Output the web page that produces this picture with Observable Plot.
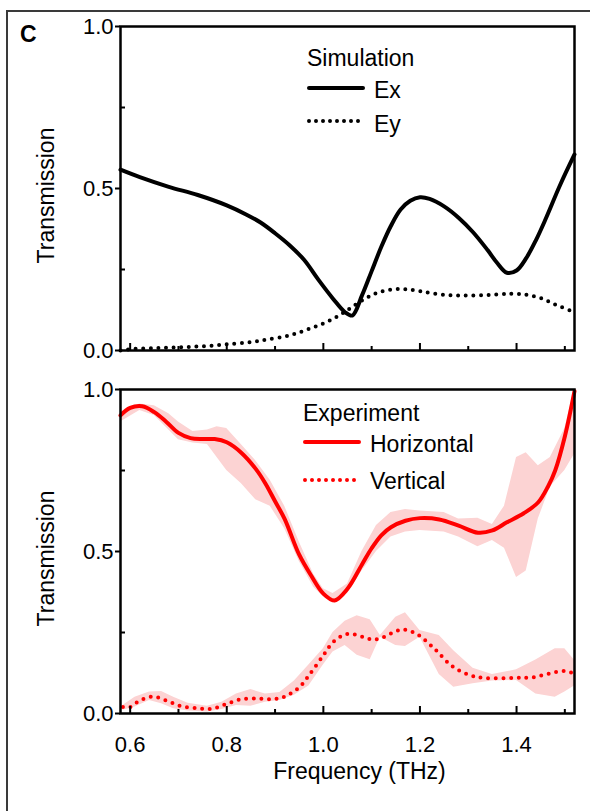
<!DOCTYPE html>
<html>
<head>
<meta charset="utf-8">
<script src="https://cdn.jsdelivr.net/npm/d3@7"></script>
<script src="https://cdn.jsdelivr.net/npm/@observablehq/plot@0.6"></script>
<style>
  html, body { margin: 0; padding: 0; background: #fff; }
  #wrap { position: relative; width: 590px; height: 811px; overflow: hidden; font-family: 'Liberation Sans', Arial, Helvetica, sans-serif; }
  #outer { position: absolute; left: 6px; top: 10px; width: 620px; height: 840px; border-left: 2px solid #3a3a3a; border-top: 2px solid #3a3a3a; }
  #panelC { position: absolute; left: 20px; top: 21px; font-weight: bold; font-size: 23px; line-height: 26px; }
  .plot { position: absolute; left: 0; }
  #legend { position: absolute; left: 0; top: 0; pointer-events: none; }
</style>
</head>
<body>
<div id="wrap">
  <div id="outer"></div>
  <div id="panelC">C</div>
  <div id="top" class="plot" style="top:0"></div>
  <div id="bottom" class="plot" style="top:370px"></div>
  <svg id="legend" width="590" height="811"></svg>
</div>
<script>
// ---- Simulation (top panel) ----
const exFreq = [0.58, 0.62, 0.68, 0.74, 0.80, 0.84, 0.87, 0.90, 0.93, 0.96, 0.99, 1.02, 1.045, 1.06, 1.08, 1.10, 1.12, 1.14, 1.16, 1.18, 1.20, 1.22, 1.25, 1.28, 1.31, 1.34, 1.36, 1.38, 1.40, 1.42, 1.44, 1.46, 1.49, 1.52];
const exVal  = [0.558, 0.535, 0.505, 0.48, 0.448, 0.42, 0.395, 0.362, 0.325, 0.28, 0.218, 0.16, 0.118, 0.108, 0.17, 0.245, 0.32, 0.385, 0.435, 0.462, 0.473, 0.468, 0.445, 0.41, 0.365, 0.31, 0.27, 0.24, 0.247, 0.285, 0.34, 0.405, 0.51, 0.605];

const eyFreq = [0.58, 0.60, 0.65, 0.70, 0.75, 0.80, 0.85, 0.88, 0.92, 0.95, 0.98, 1.01, 1.04, 1.06, 1.09, 1.12, 1.16, 1.20, 1.25, 1.30, 1.35, 1.39, 1.42, 1.45, 1.48, 1.52];
const eyVal  = [0.0, 0.004, 0.007, 0.01, 0.013, 0.019, 0.026, 0.033, 0.043, 0.056, 0.072, 0.09, 0.115, 0.135, 0.163, 0.182, 0.19, 0.183, 0.172, 0.17, 0.172, 0.175, 0.172, 0.162, 0.142, 0.118];

// ---- Experiment (bottom panel) ----
const horFreq = [0.58, 0.60, 0.625, 0.65, 0.675, 0.70, 0.725, 0.75, 0.775, 0.80, 0.83, 0.86, 0.88, 0.90, 0.92, 0.95, 0.975, 1.00, 1.023, 1.05, 1.08, 1.10, 1.12, 1.14, 1.17, 1.20, 1.24, 1.28, 1.32, 1.35, 1.38, 1.415, 1.445, 1.465, 1.48, 1.50, 1.52];
const horVal  = [0.92, 0.943, 0.948, 0.93, 0.9, 0.866, 0.85, 0.847, 0.847, 0.837, 0.805, 0.755, 0.71, 0.655, 0.6, 0.49, 0.425, 0.37, 0.349, 0.385, 0.46, 0.51, 0.55, 0.575, 0.595, 0.603, 0.599, 0.58, 0.558, 0.565, 0.59, 0.618, 0.652, 0.7, 0.75, 0.855, 0.995];

const horBandFreq = [0.58, 0.62, 0.65, 0.68, 0.70, 0.73, 0.76, 0.78, 0.80, 0.83, 0.86, 0.89, 0.92, 0.95, 0.98, 1.00, 1.02, 1.05, 1.08, 1.11, 1.14, 1.17, 1.20, 1.25, 1.28, 1.32, 1.35, 1.375, 1.40, 1.42, 1.445, 1.47, 1.50, 1.52];
const horBandHi   = [0.93, 0.955, 0.95, 0.925, 0.9, 0.87, 0.875, 0.885, 0.88, 0.83, 0.78, 0.72, 0.64, 0.53, 0.43, 0.385, 0.37, 0.40, 0.50, 0.58, 0.62, 0.63, 0.625, 0.62, 0.6, 0.603, 0.583, 0.64, 0.79, 0.805, 0.765, 0.79, 0.88, 1.0];
const horBandLo   = [0.90, 0.935, 0.92, 0.875, 0.845, 0.835, 0.83, 0.79, 0.75, 0.71, 0.66, 0.64, 0.57, 0.47, 0.39, 0.36, 0.34, 0.37, 0.44, 0.5, 0.545, 0.56, 0.565, 0.56, 0.545, 0.515, 0.534, 0.51, 0.42, 0.44, 0.6, 0.7, 0.75, 0.8];

const verFreq = [0.585, 0.60, 0.615, 0.645, 0.675, 0.705, 0.74, 0.77, 0.80, 0.83, 0.865, 0.895, 0.92, 0.95, 0.97, 1.00, 1.02, 1.045, 1.065, 1.09, 1.105, 1.125, 1.15, 1.168, 1.195, 1.23, 1.265, 1.30, 1.33, 1.40, 1.435, 1.47, 1.50, 1.52];
const verVal  = [0.02, 0.02, 0.035, 0.052, 0.04, 0.023, 0.016, 0.015, 0.03, 0.044, 0.046, 0.044, 0.052, 0.081, 0.117, 0.18, 0.22, 0.244, 0.244, 0.232, 0.228, 0.236, 0.254, 0.259, 0.244, 0.2, 0.148, 0.12, 0.11, 0.11, 0.112, 0.124, 0.131, 0.123];

const verBandFreq = [0.585, 0.61, 0.64, 0.665, 0.69, 0.72, 0.76, 0.79, 0.82, 0.85, 0.88, 0.91, 0.94, 0.97, 1.00, 1.02, 1.045, 1.07, 1.097, 1.118, 1.15, 1.17, 1.20, 1.24, 1.27, 1.31, 1.35, 1.40, 1.44, 1.48, 1.50, 1.52];
const verBandHi   = [0.025, 0.05, 0.066, 0.068, 0.05, 0.032, 0.022, 0.035, 0.06, 0.074, 0.06, 0.065, 0.1, 0.15, 0.2, 0.25, 0.285, 0.302, 0.289, 0.241, 0.297, 0.311, 0.256, 0.241, 0.194, 0.14, 0.12, 0.135, 0.165, 0.2, 0.2, 0.164];
const verBandLo   = [0.01, 0.02, 0.04, 0.03, 0.015, 0.008, 0.005, 0.012, 0.025, 0.022, 0.035, 0.04, 0.056, 0.085, 0.15, 0.19, 0.21, 0.18, 0.166, 0.235, 0.21, 0.207, 0.235, 0.12, 0.081, 0.092, 0.1, 0.102, 0.06, 0.05, 0.066, 0.085];

// ---- axes / ticks ----
const xMajor = [0.6, 0.8, 1.0, 1.2, 1.4];
const xMinor = [0.7, 0.9, 1.1, 1.3, 1.5];
const yMajor = [0, 0.5, 1.0];
const yMinor = [0.25, 0.75];
const yLabel = "Transmission";
const xLabel = "Frequency (THz)";

const RED = "#ff0000";
const PINK = "#fcd3d3";
const FONT = "'Liberation Sans', Arial, Helvetica, sans-serif";

const rows = (fs, vs) => fs.map((f, i) => ({f, v: vs[i]}));
const bandRows = (fs, lo, hi) => fs.map((f, i) => ({f, lo: lo[i], hi: hi[i]}));

const W = 590, ML = 120, MR = 16, PH = 324;
const PW = W - ML - MR;

function commonMarks(showXLabels) {
  const m = [
    Plot.ruleX(xMajor, {x: d => d, insetTop: PH - 7, stroke: "black", strokeWidth: 2}),
    Plot.ruleX(xMinor, {x: d => d, insetTop: PH - 4, stroke: "black", strokeWidth: 2}),
    Plot.ruleY(yMinor, {y: d => d, insetRight: PW - 5, stroke: "black", strokeWidth: 2}),
    Plot.axisY({ticks: yMajor, tickFormat: d3.format(".1f"), tickSize: 5, tickPadding: 2, strokeWidth: 2, fontSize: 22, label: null}),
    Plot.text([yLabel], {text: d => d, frameAnchor: "left", textAnchor: "middle", lineAnchor: "middle", rotate: -90, dx: -74, dy: 7, fontSize: 23}),
    Plot.frame({stroke: "black", strokeWidth: 2.5})
  ];
  if (showXLabels) {
    m.push(Plot.axisX({ticks: xMajor, tickFormat: d3.format(".1f"), tickSize: 0, tickPadding: 23, fontSize: 22, label: null}));
    m.push(Plot.text([xLabel], {text: d => d, frameAnchor: "bottom", textAnchor: "middle", lineAnchor: "middle", dx: 12, dy: 58, fontSize: 23}));
  }
  return m;
}

const baseOpts = {
  width: W,
  marginLeft: ML, marginRight: MR,
  x: {domain: [0.58, 1.52], axis: null},
  y: {domain: [0, 1], axis: null},
  style: {fontFamily: FONT, fontSize: "22px", color: "black", background: "transparent", overflow: "visible"}
};

const topPlot = Plot.plot({
  ...baseOpts,
  height: 370, marginTop: 26, marginBottom: 20,
  marks: [
    Plot.lineY(rows(eyFreq, eyVal), {x: "f", y: "v", stroke: "black", strokeWidth: 4, strokeDasharray: "0 7.6", strokeLinecap: "round", curve: "catmull-rom"}),
    Plot.lineY(rows(exFreq, exVal), {x: "f", y: "v", stroke: "black", strokeWidth: 4, curve: "catmull-rom"}),
    ...commonMarks(false)
  ]
});
document.getElementById("top").appendChild(topPlot);

const bottomPlot = Plot.plot({
  ...baseOpts,
  height: 441, marginTop: 19, marginBottom: 98,
  marks: [
    Plot.areaY(bandRows(horBandFreq, horBandLo, horBandHi), {x: "f", y1: "lo", y2: "hi", fill: PINK}),
    Plot.areaY(bandRows(verBandFreq, verBandLo, verBandHi), {x: "f", y1: "lo", y2: "hi", fill: PINK}),
    Plot.lineY(rows(verFreq, verVal), {x: "f", y: "v", stroke: RED, strokeWidth: 4, strokeDasharray: "0 7.6", strokeLinecap: "round", curve: "catmull-rom"}),
    Plot.lineY(rows(horFreq, horVal), {x: "f", y: "v", stroke: RED, strokeWidth: 4, curve: "catmull-rom"}),
    ...commonMarks(true)
  ]
});
document.getElementById("bottom").appendChild(bottomPlot);

// ---- legends ----
const legendTop = {title: "Simulation", items: [{name: "Ex", color: "black", dash: null}, {name: "Ey", color: "black", dash: "0 7"}]};
const legendBottom = {title: "Experiment", items: [{name: "Horizontal", color: RED, dash: null}, {name: "Vertical", color: RED, dash: "0 7"}]};

const svg = d3.select("#legend");
function drawLegend(leg, x0, titleBase, rowYs, textBases) {
  const g = svg.append("g").attr("font-family", FONT).attr("font-size", 23).attr("fill", "black");
  g.append("text").attr("x", x0).attr("y", titleBase).text(leg.title);
  leg.items.forEach((it, i) => {
    g.append("line").attr("x1", x0 + 2).attr("x2", x0 + 56).attr("y1", rowYs[i]).attr("y2", rowYs[i])
      .attr("stroke", it.color).attr("stroke-width", 4)
      .attr("stroke-linecap", "round").attr("stroke-dasharray", it.dash);
    g.append("text").attr("x", x0 + 67).attr("y", textBases[i]).text(it.name);
  });
}
drawLegend(legendTop, 307, 66, [88, 121], [98, 132]);
drawLegend(legendBottom, 303, 421, [442, 480], [452, 489]);
</script>
</body>
</html>
